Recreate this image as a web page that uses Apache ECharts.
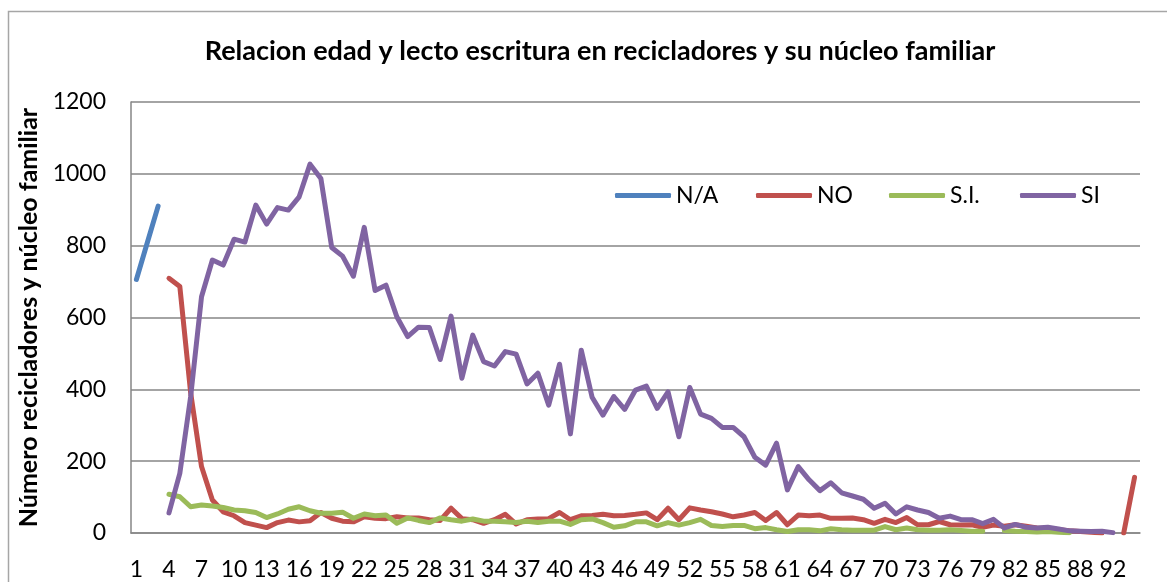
<!DOCTYPE html>
<html>
<head>
<meta charset="utf-8">
<script src="https://cdn.jsdelivr.net/npm/echarts@6/dist/echarts.min.js"></script>
<style>
html,body{margin:0;padding:0;background:#fff;}
#c{width:1167px;height:582px;}
</style>
</head>
<body>
<div id="c"></div>
<script>
var ages = [];
for (var a = 1; a <= 90; a++) ages.push(String(a));
ages.push('92', '93', '94');

var seriesNames = ['N/A', 'NO', 'S.I.', 'SI'];

var naValues = [706, 808, 910];

var noValues = [null, null, null,
  709, 686, 390, 185, 92, 59, 48, 29, 22, 15, 29, 36, 31, 34, 57, 41, 33, 31, 45, 41, 40, 45, 42,
  42, 37, 35, 69, 40, 37, 27, 37, 52, 25, 37, 39, 40, 57, 37, 48, 49, 52, 48, 49, 52, 56, 37, 69,
  37, 70, 64, 59, 53, 45, 50, 57, 35, 57, 23, 50, 48, 50, 41, 41, 42, 37, 27, 38, 29, 43, 23, 23,
  32, 23, 22, 23, 16, 22, 19, 23, 19, 14, 13, 9, 6, 4, 2, 0,
  null, 0, 155];

var siNullValues = [null, null, null,
  108, 101, 73, 78, 75, 71, 64, 62, 57, 43, 53, 66, 73, 62, 55, 55, 58, 41, 53, 48, 50, 27, 42,
  35, 29, 42, 37, 33, 39, 33, 33, 31, 29, 33, 29, 33, 33, 24, 37, 39, 29, 16, 20, 31, 31, 20, 29,
  22, 29, 38, 21, 18, 21, 21, 12, 15, 9, 4, 9, 9, 6, 12, 9, 8, 8, 8, 18, 9, 14, 9, 8,
  8, 9, 7, 5, 5, null, 7, 5, 4, 3, 4, 2, 1, null, null, null,
  null, null, null];

var siValues = [null, null, null,
  56, 166, 380, 658, 760, 746, 818, 810, 913, 860, 906, 899, 936, 1027, 987, 795, 771, 715, 851, 675, 690, 602, 547,
  573, 572, 483, 604, 431, 551, 477, 465, 505, 498, 415, 445, 356, 470, 276, 509, 378, 328, 380, 344, 398, 409, 347, 393,
  268, 405, 331, 319, 294, 294, 268, 211, 189, 250, 120, 185, 148, 118, 140, 112, 103, 94, 69, 83, 53, 73, 64, 57,
  41, 47, 37, 37, 26, 38, 14, 24, 16, 14, 16, 11, 6, 5, 4, 5,
  1, null, null];

var yTicks = [0, 200, 400, 600, 800, 1000, 1200];

var colors = ['#4F81BD', '#C0504D', '#9BBB59', '#8064A2'];
var FONT = 'Lato, "Open Sans", sans-serif';

function lineSeries(name, data, color) {
  return {
    name: name, type: 'line', data: data, symbol: 'none', connectNulls: false,
    lineStyle: { width: 5, color: color, cap: 'round', join: 'round' },
    itemStyle: { color: color },
    emphasis: { disabled: true }, animation: false
  };
}

var legendLefts = [615, 756, 889, 1020];
var legends = seriesNames.map(function (n, i) {
  return {
    data: [n], left: legendLefts[i], top: 184,
    icon: 'roundRect', itemWidth: 56, itemHeight: 5, itemGap: 0,
    textStyle: { fontFamily: FONT, fontSize: 23, color: '#000', padding: [0, 0, 0, 0] },
    selectedMode: false, padding: 0
  };
});

var chart = echarts.init(document.getElementById('c'), null, { renderer: 'canvas' });
chart.setOption({
  animation: false,
  color: colors,
  graphic: [{
    type: 'rect', left: 6, top: 9, silent: true,
    shape: { width: 1200, height: 620 },
    style: { fill: 'none', stroke: '#a6a6a6', lineWidth: 1.5 }
  }],
  title: {
    text: 'Relacion edad y lecto escritura en recicladores y su núcleo familiar',
    left: 595, top: 33, textAlign: 'center',
    textStyle: { fontFamily: FONT, fontSize: 27, fontWeight: 'bold', color: '#000' }
  },
  legend: legends,
  grid: { left: 131, top: 102, right: 27, bottom: 49, containLabel: false },
  xAxis: {
    type: 'category', data: ages, boundaryGap: true,
    axisLine: { lineStyle: { color: '#868686', width: 1.5 } },
    axisTick: { show: false },
    axisLabel: { interval: 2, margin: 25, fontFamily: FONT, fontSize: 23, color: '#000' }
  },
  yAxis: {
    type: 'value', min: 0, max: 1200, interval: 200,
    name: 'Número recicladores y núcleo familiar', nameLocation: 'middle', nameGap: 89,
    nameTextStyle: { fontFamily: FONT, fontSize: 25, fontWeight: 'bold', color: '#000' },
    axisLine: { show: true, lineStyle: { color: '#868686', width: 1.5 } },
    axisTick: { show: false },
    splitLine: { lineStyle: { color: '#868686', width: 1.5 } },
    axisLabel: {
      margin: 25, fontFamily: FONT, fontSize: 23, color: '#000',
      formatter: function (v) { return yTicks.indexOf(v) >= 0 ? String(v) : ''; }
    }
  },
  series: [
    lineSeries(seriesNames[0], naValues, colors[0]),
    lineSeries(seriesNames[1], noValues, colors[1]),
    lineSeries(seriesNames[2], siNullValues, colors[2]),
    lineSeries(seriesNames[3], siValues, colors[3])
  ]
});
</script>
</body>
</html>
